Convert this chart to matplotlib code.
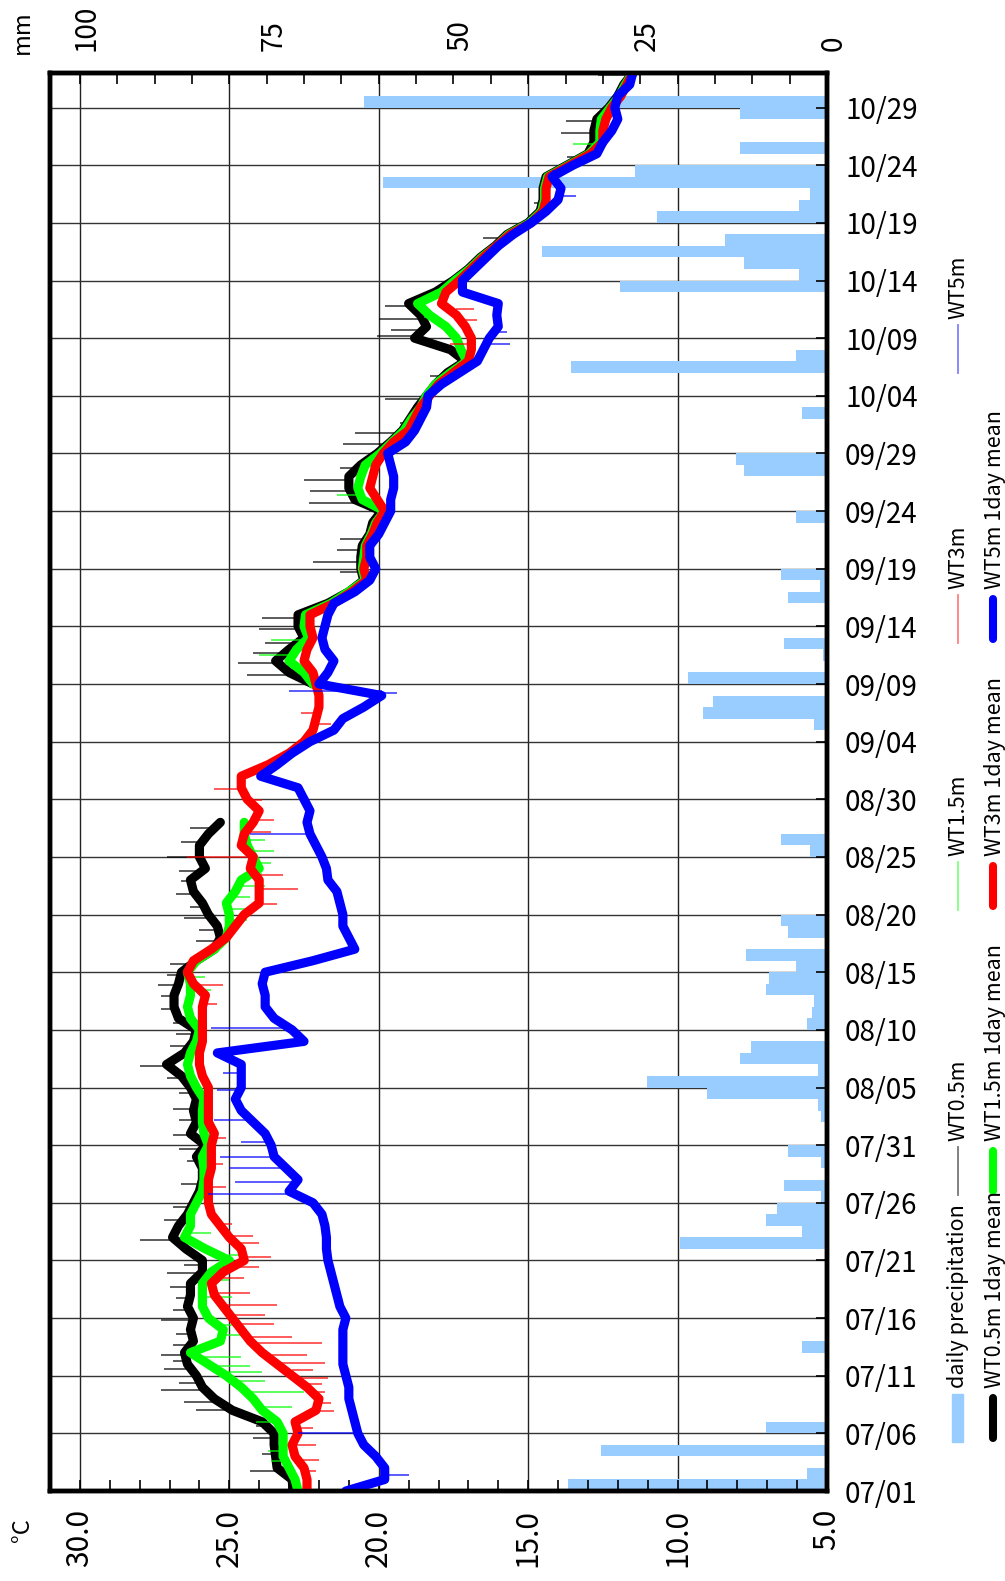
import numpy as np
import matplotlib.pyplot as plt
from matplotlib.lines import Line2D
from matplotlib.patches import Rectangle
import matplotlib.transforms as mtransforms

plt.rcParams['font.family'] = ['Noto Sans CJK JP', 'DejaVu Sans']

# day index 0 = 07/01 ... 123 = 11/01
days = np.arange(124)

date_ticks = np.arange(0, 121, 5)
date_labels = ['07/01', '07/06', '07/11', '07/16', '07/21', '07/26', '07/31',
               '08/05', '08/10', '08/15', '08/20', '08/25', '08/30', '09/04',
               '09/09', '09/14', '09/19', '09/24', '09/29', '10/04', '10/09',
               '10/14', '10/19', '10/24', '10/29']
temp_ticks = [5, 10, 15, 20, 25, 30]
temp_labels = ['5.0', '10.0', '15.0', '20.0', '25.0', '30.0']
rain_ticks = [0, 25, 50, 75, 100]
rain_labels = ['0', '25', '50', '75', '100']

# daily precipitation (mm), one value per day
precip = [34.6, 2.7, 0, 30.2, 0, 8.2, 0.2, 0, 0, 0,
          0, 0, 3.3, 0, 0, 0, 0.2, 0, 0, 0,
          0, 19.7, 3.3, 8.2, 6.7, 0.75, 5.7, 0, 0.75, 5.2,
          0.2, 0, 0.75, 1.2, 16.1, 24.1, 1.2, 11.6, 10.2, 0,
          2.7, 2.0, 1.7, 8.2, 7.7, 4.2, 10.8, 0, 5.2, 6.1,
          0, 0, 0, 0, 0, 2.3, 6.1, 0, 0, 0,
          0, 0.3, 0, 0, 0, 0, 1.7, 16.6, 15.2, 0.3,
          18.6, 0, 0.5, 5.7, 0, 0, 0, 5.2, 0.9, 6.1,
          0, 0, 0, 0.2, 4.2, 0, 0, 0, 11.1, 12.2,
          0, 0, 0, 3.3, 0.2, 0, 0, 34.2, 4.2, 0,
          0, 0, 0, 0, 27.7, 3.8, 11.1, 38.1, 13.7, 0,
          22.7, 3.8, 2.3, 59.4, 25.7, 0, 11.6, 0, 0, 11.6,
          62.0, 0, 0, 0]

nan = np.nan
# 1day mean water temperatures (deg C)
wt05_mean = [22.86, 22.9, 23.4, 23.45, 23.5, 23.5, 23.9, 24.9, 25.5, 25.9,
             26.1, 26.4, 26.5, 26.2, 26.3, 26.2, 26.4, 26.3, 26.3, 25.9,
             25.9, 26.45, 26.9, 26.7, 26.4, 26.2, 26.0, 25.9, 25.9, 26.1,
             25.8, 26.3, 26.1, 26.2, 26.1, 26.3, 26.6, 27.1, 26.5, 26.2,
             26.1, 26.7, 26.85, 26.85, 26.7, 26.6, 26.1, 25.5, 25.3, 25.4,
             25.7, 25.9, 26.2, 26.3, 25.8, 26.0, 26.0, 25.7, 25.3, nan,
             nan, nan, nan, nan, nan, nan, nan, nan, nan, nan,
             22.2, 23.0, 23.45, 23.0, 22.5, 22.7, 22.7, 21.7, 21.0, 20.5,
             20.6, 20.6, 20.55, 20.3, 20.2, 19.9, 20.8, 21.0, 21.0, 20.6,
             20.05, 19.6, 19.2, 18.95, 18.7, 18.4, 18.1, 17.7, 17.1, 17.6,
             18.8, 18.4, 18.6, 19.0, 18.1, 17.5, 17.0, 16.6, 16.1, 15.7,
             15.0, 14.6, 14.5, 14.5, 14.4, 13.7, 13.0, 12.8, 12.8, 12.7,
             12.3, 12.0, 11.8, 11.5]
wt15_mean = [22.7, 22.8, 23.0, 23.2, 23.2, 23.2, 23.4, 23.9, 24.2, 24.6,
             25.1, 25.7, 26.3, 25.3, 25.2, 25.7, 25.9, 25.9, 25.9, 25.6,
             25.0, 25.8, 26.5, 26.3, 26.3, 26.1, 25.9, 25.85, 25.85, 25.9,
             25.7, 25.85, 25.9, 25.9, 25.85, 26.1, 26.3, 26.4, 26.3, 26.1,
             26.0, 26.3, 26.4, 26.3, 26.3, 26.4, 26.1, 25.5, 25.1, 25.0,
             25.0, 25.1, 24.8, 24.6, 24.0, 24.2, 24.4, 24.5, 24.5, nan,
             nan, nan, nan, nan, nan, nan, nan, nan, nan, nan,
             22.2, 22.5, 23.0, 22.75, 22.35, 22.5, 22.45, 21.6, 21.0, 20.45,
             20.55, 20.5, 20.45, 20.25, 20.1, 19.8, 20.55, 20.7, 20.6, 20.45,
             19.95, 19.55, 19.15, 18.9, 18.6, 18.4, 18.1, 17.6, 17.05, 17.25,
             17.4, 17.75, 18.3, 18.7, 17.9, 17.45, 16.95, 16.55, 16.05, 15.65,
             14.95, 14.55, 14.45, 14.45, 14.35, 13.65, 12.95, 12.6, 12.6, 12.55,
             12.25, 11.95, 11.75, 11.5]
wt3_mean = [22.4, 22.4, 22.5, 22.8, 22.9, 22.7, 22.8, 22.1, 22.0, 22.4,
            22.9, 23.4, 23.9, 24.3, 24.6, 24.9, 25.2, 25.5, 25.6, 25.2,
            24.5, 24.6, 25.0, 25.3, 25.6, 25.7, 25.7, 25.7, 25.6, 25.6,
            25.6, 25.5, 25.7, 25.7, 25.7, 25.7, 25.9, 26.0, 26.0, 25.9,
            25.9, 25.9, 25.9, 25.8, 26.2, 26.4, 26.2, 25.6, 25.1, 24.8,
            24.5, 24.0, 24.0, 24.0, 24.3, 24.2, 24.6, 24.5, 24.2, 24.0,
            24.4, 24.6, 24.6, 23.7, 23.0, 22.5, 22.2, 22.1, 22.0, 22.0,
            22.1, 22.2, 22.5, 22.4, 22.2, 22.3, 22.3, 21.5, 20.9, 20.4,
            20.5, 20.4, 20.4, 20.2, 20.05, 19.8, 20.05, 20.3, 20.2, 20.1,
            19.85, 19.5, 19.0, 18.8, 18.6, 18.3, 18.0, 17.5, 17.0, 16.9,
            16.9, 17.1, 17.4, 17.9, 17.75, 17.3, 16.9, 16.5, 16.05, 15.6,
            14.9, 14.5, 14.4, 14.4, 14.3, 13.6, 12.9, 12.5, 12.5, 12.4,
            12.2, 11.9, 11.7, 11.5]
wt5_mean = [21.1, 19.8, 19.8, 20.1, 20.5, 20.7, 20.8, 20.9, 21.0, 21.0,
            21.1, 21.2, 21.2, 21.2, 21.2, 21.1, 21.3, 21.4, 21.5, 21.6,
            21.7, 21.75, 21.75, 21.8, 21.9, 22.2, 23.0, 22.7, 23.1, 23.5,
            23.6, 23.8, 24.2, 24.6, 24.8, 24.6, 24.6, 24.6, 25.4, 22.5,
            22.9, 23.5, 23.8, 23.8, 23.9, 23.8, 22.2, 20.8, 21.0, 21.2,
            21.2, 21.3, 21.4, 21.7, 21.75, 21.9, 22.1, 22.3, 22.4, 22.3,
            22.5, 22.7, 23.95, 23.4, 22.9, 22.3, 21.5, 21.2, 20.5, 19.9,
            22.0, 21.7, 21.5, 21.8, 21.9, 21.8, 21.7, 21.5, 20.8, 20.3,
            20.1, 20.3, 20.3, 20.0, 19.8, 19.6, 19.6, 19.5, 19.5, 19.6,
            19.7, 19.1, 18.8, 18.6, 18.4, 18.35, 17.9, 17.3, 16.7, 16.5,
            16.3, 16.0, 16.05, 16.0, 17.2, 17.2, 16.8, 16.4, 16.0, 15.5,
            14.9, 14.4, 14.0, 13.9, 14.2, 13.5, 12.7, 12.5, 12.2, 12.0,
            12.1, 12.0, 11.6, 11.5]

# raw (hourly) excursions: (day, peak temperature)
wt05_peaks = [(1.7, 24.3), (3.2, 23.9), (4.6, 24.2), (5.6, 24.1), (7.0, 26.1),
              (7.7, 26.5), (8.8, 27.3), (9.4, 26.7), (10.6, 27.2), (11.3, 26.9),
              (11.8, 27.3), (12.7, 26.9), (13.6, 26.8), (14.8, 27.3), (15.7, 26.9),
              (16.7, 26.8), (17.7, 27.0), (18.9, 27.1), (19.6, 26.5), (20.9, 26.4),
              (21.8, 28.0), (23.5, 27.2), (24.6, 26.9), (26.6, 26.6), (28.6, 26.4),
              (29.7, 26.7), (30.9, 26.9), (32.2, 26.7), (33.1, 26.9), (34.5, 26.7),
              (35.8, 27.1), (36.9, 28.0), (38.6, 27.0), (39.6, 26.8), (40.6, 26.9),
              (41.8, 27.3), (42.9, 27.3), (43.9, 27.4), (44.8, 27.1), (45.7, 27.0),
              (47.7, 26.1), (48.7, 26.0), (49.7, 26.5), (50.7, 26.3), (51.8, 26.8),
              (52.9, 26.6), (53.8, 26.7), (55.0, 27.1), (56.3, 26.6), (57.5, 26.3),
              (70.8, 24.4), (71.8, 24.7), (72.7, 24.2), (73.6, 23.8), (74.8, 24.0),
              (75.7, 23.9), (79.7, 21.3), (80.6, 22.2), (81.6, 21.4), (82.6, 21.3),
              (85.7, 22.35), (86.7, 22.3), (87.7, 22.5), (88.7, 21.3), (90.8, 21.2),
              (91.8, 20.8), (92.6, 19.3), (94.7, 19.8), (96.7, 18.3), (100.2, 20.05),
              (100.7, 19.6), (101.7, 20.0), (102.8, 19.8), (108.7, 16.5), (111.7, 14.8),
              (115.7, 13.7), (117.8, 13.9), (118.8, 13.75), (122.8, 12.65)]
wt15_peaks = [(2.6, 23.6), (3.5, 23.7), (6.0, 24.1), (7.3, 22.9), (8.6, 22.5),
              (9.5, 23.8), (10.3, 23.9), (10.8, 24.3), (11.6, 24.6), (13.5, 24.3),
              (14.4, 24.6), (16.8, 24.9), (18.3, 25.0), (19.5, 24.8), (20.5, 24.4),
              (22.4, 25.6), (43.5, 25.6), (44.6, 25.8), (49.5, 24.4), (50.5, 24.2),
              (51.5, 24.3), (52.5, 23.8), (53.5, 23.9), (54.5, 23.6), (55.5, 23.5),
              (56.5, 23.8), (72.5, 24.0), (73.8, 23.6), (86.4, 21.4), (101.8, 18.5),
              (116.8, 13.5)]
wt3_peaks = [(1.7, 22.1), (2.7, 22.0), (4.0, 22.1), (5.5, 22.2), (6.9, 21.5),
             (7.6, 21.6), (8.6, 21.8), (9.3, 21.9), (9.8, 21.7), (10.5, 22.2),
             (11.1, 21.8), (11.8, 22.4), (12.8, 21.9), (13.4, 22.9), (14.5, 23.5),
             (15.3, 23.8), (16.1, 23.4), (17.2, 24.3), (18.5, 24.5), (19.4, 24.0),
             (20.3, 23.6), (21.5, 24.0), (22.1, 24.2), (23.2, 24.9), (26.4, 25.1),
             (28.4, 25.2), (30.6, 25.1), (42.2, 25.4), (43.9, 25.2), (50.9, 23.4),
             (52.2, 22.7), (53.4, 23.2), (55.0, 26.4), (57.2, 23.6), (58.2, 23.5),
             (59.9, 23.9), (60.9, 25.5), (66.5, 21.6), (67.5, 22.6), (99.5, 17.6),
             (101.6, 16.7), (102.5, 16.8)]
wt5_peaks = [(1.4, 19.0), (5.0, 22.7), (25.8, 25.7), (26.8, 24.8), (28.0, 25.0),
             (29.0, 25.3), (30.3, 24.6), (32.2, 25.5), (34.8, 25.4), (36.3, 25.2),
             (38.0, 25.5), (40.2, 25.6), (57.0, 24.3), (69.4, 23.0), (69.2, 19.4),
             (99.5, 15.6), (100.5, 15.7), (112.3, 13.4), (114.5, 13.6)]

W, H = 1005, 1581
fig = plt.figure(figsize=(W / 100, H / 100), dpi=100)

def fx(px):
    return px / W

def fy(py):
    return 1 - py / H

ax_p = fig.add_axes([fx(50), fy(1491), fx(827) - fx(50), fy(73) - fy(1491)])
ax_p.set_xlim(104, 0)
ax_p.set_ylim(0, 123)

# grid under the bars (temperature grid: T = 5 + p / 4)
for t in temp_ticks[1:]:
    ax_p.axvline((t - 5) * 4, color='#222222', lw=1.0, zorder=0)
for d in date_ticks[1:]:
    ax_p.axhline(d, color='#333333', lw=1.0, zorder=0)

ax_p.barh(days, precip, height=1, align='edge', color='#99CCFF', zorder=1)

ax_t = ax_p.twiny()
ax_t.set_xlim(31, 5)
ax_p.xaxis.tick_top()
ax_t.xaxis.tick_bottom()

series = [
    (wt05_mean, wt05_peaks, '#000000'),
    (wt15_mean, wt15_peaks, '#00FF00'),
    (wt3_mean, wt3_peaks, '#FF0000'),
    (wt5_mean, wt5_peaks, '#0000FF'),
]
for mean, peaks, col in series:
    mean = np.array(mean, dtype=float)
    pd_ = np.array([p[0] for p in peaks])
    pv = np.array([p[1] for p in peaks])
    base = mean[np.round(pd_).astype(int)]
    ax_t.plot(mean, days, color=col, lw=1.0, alpha=0.6)
    ax_t.hlines(pd_, base, pv, color=col, lw=1.2, alpha=0.75)
    ax_t.plot(mean, days, color=col, lw=6.6, solid_capstyle='round',
              solid_joinstyle='round')

# ticks
ax_p.set_xticks(rain_ticks)
ax_p.set_xticklabels(rain_labels)
ax_p.set_xticks(np.arange(0, 101, 5), minor=True)
ax_p.tick_params(axis='x', which='both', direction='in', length=8, width=1.2,
                 top=True, bottom=False, labeltop=True, labelbottom=False)
ax_p.tick_params(axis='x', which='major', labelsize=20, labelrotation=90, pad=16)
off = mtransforms.ScaledTranslation(7 / 100, 0, fig.dpi_scale_trans)
for lab in ax_p.get_xticklabels():
    lab.set_transform(lab.get_transform() + off)

ax_p.yaxis.tick_right()
ax_p.set_yticks(date_ticks)
ax_p.set_yticklabels(date_labels)
ax_p.tick_params(axis='y', direction='in', length=8, width=1.2, right=True,
                 left=False, labelright=True, labelleft=False, labelsize=20, pad=13)

ax_t.set_xticks(temp_ticks)
ax_t.set_xticklabels(temp_labels)
ax_t.set_xticks(np.arange(5, 31, 1), minor=True)
ax_t.tick_params(axis='x', which='both', direction='in', length=8, width=1.2)
ax_t.tick_params(axis='x', which='major', labelsize=21.5, labelrotation=90, pad=13)

for a in (ax_p, ax_t):
    for s in a.spines.values():
        s.set_linewidth(3.2)

fig.text(fx(22), fy(32), 'mm', rotation=90, ha='center', va='center', fontsize=17)
fig.text(fx(22), fy(1530), '°C', rotation=90, ha='center', va='center', fontsize=17)

# legend, drawn by hand in the rotated layout
col_bottom = [1442, 1195, 910, 643, 373]
hlen = 48
row1_x, row2_x = 958, 993
row1 = [('daily precipitation', None), ('WT0.5m', '#777777'), ('WT1.5m', '#80FF80'),
        ('WT3m', '#FF8080'), ('WT5m', '#8080FF')]
row2 = [('WT0.5m 1day mean', '#000000'), ('WT1.5m 1day mean', '#00FF00'),
        ('WT3m 1day mean', '#FF0000'), ('WT5m 1day mean', '#0000FF')]
for (lab, col), yb in zip(row1, col_bottom):
    if col is None:
        fig.add_artist(Rectangle((fx(952), fy(yb)), fx(11), fy(yb - hlen) - fy(yb),
                                 transform=fig.transFigure, color='#99CCFF'))
    else:
        fig.add_artist(Line2D([fx(row1_x)] * 2, [fy(yb), fy(yb - hlen)],
                              transform=fig.transFigure, color=col, lw=1.3))
    fig.text(fx(row1_x), fy(yb - hlen - 6), lab, rotation=90, ha='center',
             va='bottom', fontsize=15.5)
for (lab, col), yb in zip(row2, col_bottom):
    fig.add_artist(Line2D([fx(row2_x)] * 2, [fy(yb - 4), fy(yb - hlen + 4)],
                          transform=fig.transFigure, color=col, lw=5.8,
                          solid_capstyle='round'))
    fig.text(fx(row2_x + 2), fy(yb - hlen - 6), lab, rotation=90, ha='center',
             va='bottom', fontsize=15.5)

fig.savefig('out.png', dpi=100)
